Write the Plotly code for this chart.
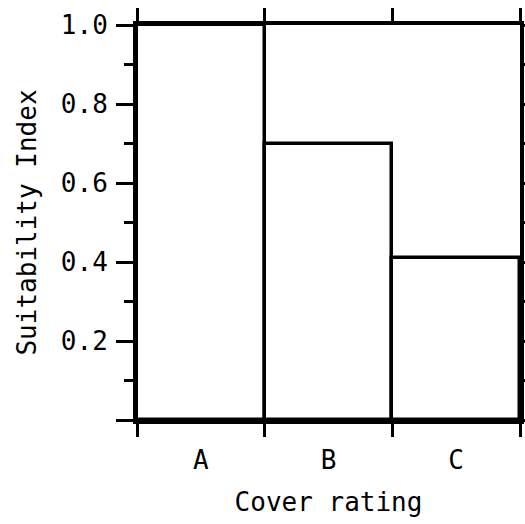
import plotly.graph_objects as go

categories = ["A", "B", "C"]
suitability = [1.0, 0.7, 0.41]
y_tick_values = [0.0, 0.2, 0.4, 0.6, 0.8, 1.0]
y_tick_labels = ["", "0.2", "0.4", "0.6", "0.8", "1.0"]

FONT = "DejaVu Sans Mono"

fig = go.Figure(
    go.Bar(
        x=categories,
        y=suitability,
        marker=dict(color="white", line=dict(color="black", width=3.5)),
        width=1.0,
        hoverinfo="skip",
    )
)

fig.update_layout(
    width=525,
    height=524,
    autosize=False,
    margin=dict(l=137, r=5, t=25, b=104, autoexpand=False),
    paper_bgcolor="white",
    plot_bgcolor="white",
    bargap=0,
    showlegend=False,
    font=dict(family=FONT, color="black", size=25),
)

fig.update_xaxes(
    type="category",
    automargin=False,
    tickson="boundaries",
    ticks="outside",
    ticklen=13,
    tickwidth=3,
    tickcolor="black",
    showline=True,
    linecolor="black",
    linewidth=4,
    mirror="ticks",
    showgrid=False,
    tickfont=dict(family=FONT, size=26),
    ticklabelstandoff=14,
    title=dict(text="Cover rating", font=dict(family=FONT, size=26), standoff=20),
)

fig.update_yaxes(
    automargin=False,
    range=[0, 1.0],
    tickmode="array",
    tickvals=y_tick_values,
    ticktext=y_tick_labels,
    ticks="outside",
    ticklen=17,
    tickwidth=3,
    tickcolor="black",
    minor=dict(tickmode="linear", tick0=0, dtick=0.1, ticks="outside",
               ticklen=9, tickwidth=2.5, tickcolor="black", showgrid=False),
    showline=True,
    linecolor="black",
    linewidth=4,
    mirror="ticks",
    showgrid=False,
    zeroline=False,
    tickfont=dict(family=FONT, size=26),
    ticklabelstandoff=3,
    title=dict(text="Suitability Index", font=dict(family=FONT, size=26), standoff=18),
)

fig.write_html(
    "out.html",
    config={"displayModeBar": False},
    post_script="document.body.style.margin='0';document.body.style.overflow='hidden';",
)
